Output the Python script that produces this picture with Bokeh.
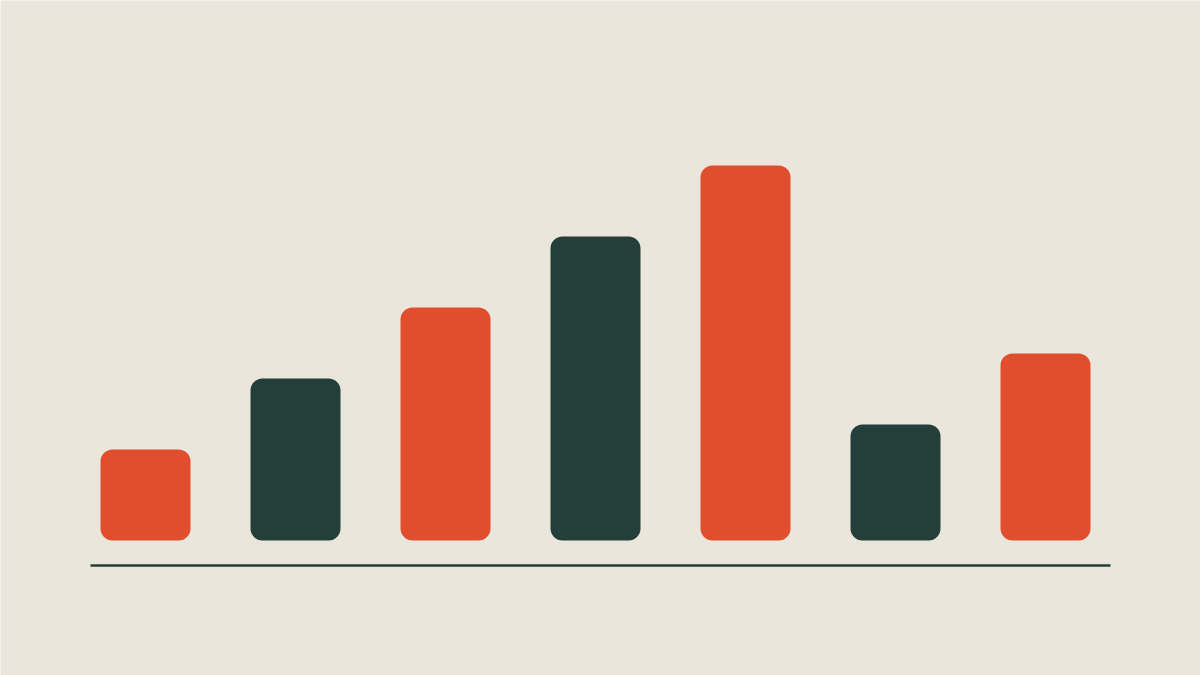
from bokeh.plotting import figure
from bokeh.models import Range1d, ColumnDataSource
from bokeh.embed import file_html
from bokeh.resources import INLINE

# data
categories = ["A", "B", "C", "D", "E", "F", "G"]
values = [18.2, 32.4, 46.6, 60.8, 75.0, 23.2, 37.4]
colors = ["#E04E2E", "#243E39", "#E04E2E", "#243E39", "#E04E2E", "#243E39", "#E04E2E"]

BG = "#EAE6DB"
DARK = "#243E39"
BASE_PAD_L = 0.3667  # baseline overhang beyond outer bar centres (index units)
BASE_PAD_R = 0.4333
BASE_Y = -5

idx = list(range(len(categories)))
src = ColumnDataSource(dict(x=idx, top=values, color=colors))

p = figure(width=1200, height=675, output_backend="svg", toolbar_location=None,
           x_range=Range1d(-0.9667, 7.0333), y_range=Range1d(-27, 108),
           min_border=0)
p.background_fill_color = BG
p.border_fill_color = BG
p.outline_line_color = None
p.axis.visible = False
p.grid.visible = False

p.vbar(x="x", top="top", bottom=0, width=0.6, source=src, fill_color="color",
       line_color=None, border_radius=12)

p.segment(x0=[idx[0] - BASE_PAD_L], x1=[idx[-1] + BASE_PAD_R], y0=[BASE_Y], y1=[BASE_Y],
          line_color=DARK, line_width=2.5)

open("out.html", "w").write(file_html(p, INLINE))
